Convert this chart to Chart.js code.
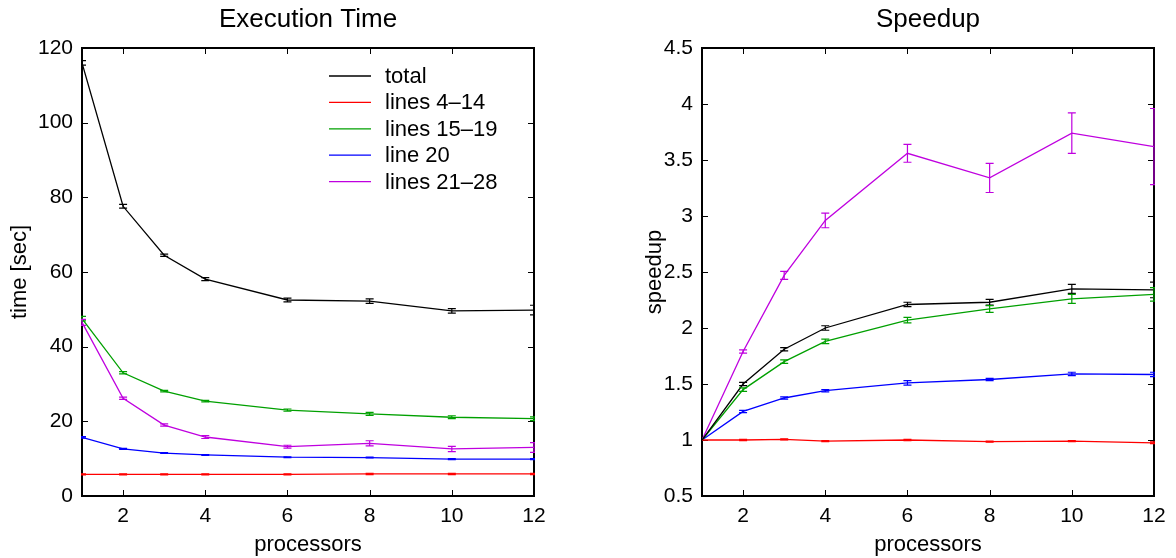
<!DOCTYPE html>
<html>
<head>
<meta charset="utf-8">
<script src="https://cdn.jsdelivr.net/npm/chart.js@4"></script>
<style>
  html, body { margin: 0; padding: 0; background: #fff; }
  #wrap { position: relative; width: 1176px; height: 558px; overflow: hidden; }
  canvas { position: absolute; top: 0; }
</style>
</head>
<body>
<div id="wrap">
  <canvas id="timeChart" width="588" height="558" style="left:0"></canvas>
  <canvas id="speedChart" width="588" height="558" style="left:588px"></canvas>
</div>
<script>
// Processor counts measured
const processors = [1, 2, 3, 4, 6, 8, 10, 12];
const xTickValues = [2, 4, 6, 8, 10, 12];
const timeTickValues = [0, 20, 40, 60, 80, 100, 120];
const speedupTickValues = [0.5, 1, 1.5, 2, 2.5, 3, 3.5, 4, 4.5];

const seriesLabels = ['total', 'lines 4–14', 'lines 15–19', 'line 20', 'lines 21–28'];
const seriesColors = ['#000000', '#ff0000', '#00a000', '#0000ff', '#bf00df'];

// Execution time [sec] per code section
const timeTotal   = [116.0, 77.6, 64.5, 58.1, 52.5, 52.2, 49.6, 49.8];
const timeL4_14   = [5.8, 5.8, 5.8, 5.8, 5.8, 5.9, 5.9, 5.9];
const timeL15_19  = [47.5, 33.0, 28.1, 25.4, 23.0, 22.0, 21.1, 20.7];
const timeL20     = [15.7, 12.6, 11.5, 11.0, 10.4, 10.3, 9.9, 9.9];
const timeL21_28  = [46.5, 26.2, 19.0, 15.8, 13.2, 14.1, 12.6, 13.0];

// Standard deviation of execution time
const timeTotalErr  = [0.6, 0.5, 0.3, 0.4, 0.5, 0.6, 0.6, 1.3];
const timeL4_14Err  = [0.15, 0.15, 0.15, 0.15, 0.15, 0.15, 0.15, 0.15];
const timeL15_19Err = [0.6, 0.3, 0.2, 0.2, 0.3, 0.4, 0.4, 0.5];
const timeL20Err    = [0.2, 0.15, 0.1, 0.1, 0.1, 0.1, 0.15, 0.15];
const timeL21_28Err = [0.8, 0.3, 0.3, 0.4, 0.4, 0.7, 0.7, 1.3];

// Speedup relative to one processor
const speedTotal   = [1, 1.50, 1.81, 2.00, 2.21, 2.23, 2.35, 2.34];
const speedL4_14   = [1, 1.00, 1.005, 0.99, 1.00, 0.985, 0.99, 0.975];
const speedL15_19  = [1, 1.45, 1.70, 1.88, 2.07, 2.17, 2.26, 2.30];
const speedL20     = [1, 1.255, 1.375, 1.44, 1.51, 1.54, 1.59, 1.585];
const speedL21_28  = [1, 1.79, 2.47, 2.96, 3.56, 3.34, 3.74, 3.62];

const speedTotalErr  = [0, 0.015, 0.015, 0.02, 0.02, 0.025, 0.04, 0.07];
const speedL4_14Err  = [0, 0.005, 0.005, 0.005, 0.005, 0.005, 0.005, 0.008];
const speedL15_19Err = [0, 0.015, 0.015, 0.02, 0.025, 0.03, 0.04, 0.06];
const speedL20Err    = [0, 0.01, 0.01, 0.01, 0.02, 0.01, 0.015, 0.02];
const speedL21_28Err = [0, 0.015, 0.035, 0.065, 0.08, 0.13, 0.18, 0.34];

const FONT = '"Liberation Sans", Arial, Helvetica, sans-serif';

function makeDatasets(valueLists, errLists) {
  return valueLists.map((vals, i) => ({
    label: seriesLabels[i],
    data: processors.map((p, j) => ({ x: p, y: vals[j] })),
    errors: errLists[i],
    borderColor: seriesColors[i],
    backgroundColor: seriesColors[i],
    borderWidth: 1.3,
    pointRadius: 0,
    tension: 0,
    fill: false
  }));
}

// Axes box with inward tick marks on all four sides
const boxPlugin = {
  id: 'boxTicks',
  beforeDatasetsDraw(chart) {
    const { ctx, chartArea: a, scales } = chart;
    ctx.save();
    ctx.strokeStyle = '#000';
    ctx.lineWidth = 1;
    const len = 6;
    scales.x.ticks.forEach(t => {
      const px = Math.round(scales.x.getPixelForValue(t.value)) + 0.5;
      ctx.beginPath();
      ctx.moveTo(px, a.bottom); ctx.lineTo(px, a.bottom - len);
      ctx.moveTo(px, a.top); ctx.lineTo(px, a.top + len);
      ctx.stroke();
    });
    scales.y.ticks.forEach(t => {
      const py = Math.round(scales.y.getPixelForValue(t.value)) + 0.5;
      ctx.beginPath();
      ctx.moveTo(a.left, py); ctx.lineTo(a.left + len, py);
      ctx.moveTo(a.right, py); ctx.lineTo(a.right - len, py);
      ctx.stroke();
    });
    ctx.lineWidth = 2;
    ctx.strokeRect(a.left, a.top, a.right - a.left, a.bottom - a.top);
    ctx.restore();
  }
};

// Vertical error bars with caps, one per data point
const errorBarPlugin = {
  id: 'errorBars',
  afterDatasetsDraw(chart) {
    const { ctx, chartArea: a, scales } = chart;
    ctx.save();
    ctx.beginPath();
    ctx.rect(a.left - 1, a.top - 1, a.right - a.left + 2, a.bottom - a.top + 2);
    ctx.clip();
    ctx.lineWidth = 1.2;
    chart.data.datasets.forEach(ds => {
      ctx.strokeStyle = ds.borderColor;
      ds.data.forEach((pt, j) => {
        const e = ds.errors[j];
        if (!e) return;
        const px = scales.x.getPixelForValue(pt.x);
        const y1 = scales.y.getPixelForValue(pt.y - e);
        const y2 = scales.y.getPixelForValue(pt.y + e);
        const cap = 4;
        ctx.beginPath();
        ctx.moveTo(px, y1); ctx.lineTo(px, y2);
        ctx.moveTo(px - cap, y1); ctx.lineTo(px + cap, y1);
        ctx.moveTo(px - cap, y2); ctx.lineTo(px + cap, y2);
        ctx.stroke();
      });
    });
    ctx.restore();
  }
};

// Legend placed inside the execution-time axes
const innerLegendPlugin = {
  id: 'innerLegend',
  afterDraw(chart) {
    if (!chart.options.plugins.innerLegend || !chart.options.plugins.innerLegend.show) return;
    const { ctx } = chart;
    ctx.save();
    ctx.font = '22px ' + FONT;
    ctx.textBaseline = 'middle';
    ctx.textAlign = 'left';
    chart.data.datasets.forEach((ds, i) => {
      const y = 76 + i * 26.4;
      ctx.strokeStyle = ds.borderColor;
      ctx.lineWidth = 1.3;
      ctx.beginPath();
      ctx.moveTo(329, y); ctx.lineTo(371, y);
      ctx.stroke();
      ctx.fillStyle = '#000';
      ctx.fillText(ds.label, 385, y + 1);
    });
    ctx.restore();
  }
};

function makeOptions(titleText, yTitle, yMin, yMax, yTicks, yWidth, yTitlePad, rightPad, legend) {
  return {
    responsive: false,
    animation: false,
    devicePixelRatio: 1,
    layout: { padding: { left: 0, right: rightPad, top: 0, bottom: 0 } },
    plugins: {
      legend: { display: false },
      tooltip: { enabled: false },
      innerLegend: { show: legend },
      title: {
        display: true,
        text: titleText,
        fullSize: false,
        color: '#000',
        font: { family: FONT, size: 26, weight: 'normal' },
        padding: { top: 4, bottom: 12.8 }
      }
    },
    scales: {
      x: {
        type: 'linear',
        min: 1,
        max: 12,
        afterBuildTicks: s => { s.ticks = xTickValues.map(v => ({ value: v })); },
        afterFit: s => { s.height = 62; },
        grid: { display: false, drawTicks: false },
        border: { display: false },
        ticks: { color: '#000', font: { family: FONT, size: 21 }, padding: 8, maxRotation: 0,
                 callback: v => String(v) },
        title: {
          display: true, text: 'processors', color: '#000',
          font: { family: FONT, size: 22 }, padding: { top: 0, bottom: 0 }
        }
      },
      y: {
        type: 'linear',
        min: yMin,
        max: yMax,
        afterBuildTicks: s => { s.ticks = yTicks.map(v => ({ value: v })); },
        afterFit: s => { s.width = yWidth; },
        grid: { display: false, drawTicks: false },
        border: { display: false },
        ticks: { color: '#000', font: { family: FONT, size: 21 }, padding: 9,
                 callback: v => String(v) },
        title: {
          display: true, text: yTitle, color: '#000',
          font: { family: FONT, size: 22 }, padding: { top: yTitlePad, bottom: 0 }
        }
      }
    }
  };
}

new Chart(document.getElementById('timeChart'), {
  type: 'line',
  data: {
    datasets: makeDatasets(
      [timeTotal, timeL4_14, timeL15_19, timeL20, timeL21_28],
      [timeTotalErr, timeL4_14Err, timeL15_19Err, timeL20Err, timeL21_28Err]
    )
  },
  options: makeOptions('Execution Time', 'time [sec]', 0, 120, timeTickValues, 82, 7, 54, true),
  plugins: [boxPlugin, errorBarPlugin, innerLegendPlugin]
});

new Chart(document.getElementById('speedChart'), {
  type: 'line',
  data: {
    datasets: makeDatasets(
      [speedTotal, speedL4_14, speedL15_19, speedL20, speedL21_28],
      [speedTotalErr, speedL4_14Err, speedL15_19Err, speedL20Err, speedL21_28Err]
    )
  },
  options: makeOptions('Speedup', 'speedup', 0.5, 4.5, speedupTickValues, 114, 54, 22, false),
  plugins: [boxPlugin, errorBarPlugin, innerLegendPlugin]
});
</script>
</body>
</html>
